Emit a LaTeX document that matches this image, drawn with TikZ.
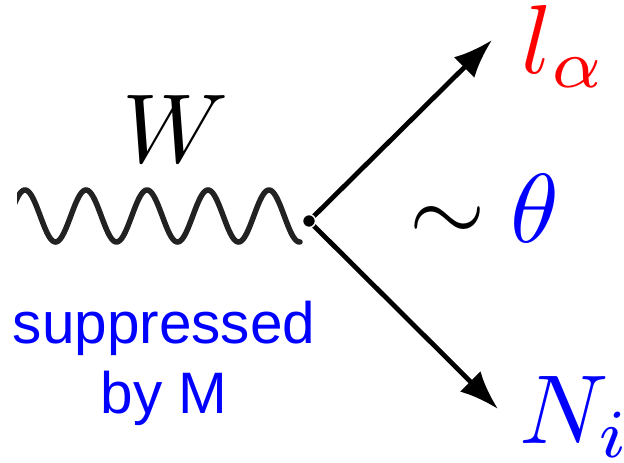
\documentclass[tikz,border=0pt]{standalone}
\usepackage{fontspec}
\newfontfamily\labelsans{Liberation Sans}
\usetikzlibrary{arrows.meta}
\definecolor{wavegray}{HTML}{222222}
\tikzset{
  wave/.style={draw=wavegray, line width=5.5pt, line cap=round},
  arr/.style={draw=black, line width=4.8pt, -{Latex[length=39pt,width=29pt]}},
  bigmath/.style={inner sep=0pt, scale=9.8},
  sanslabel/.style={inner sep=0pt, align=center, text=blue,
    font=\labelsans\fontsize{58.5}{70}\selectfont}
}
\begin{document}
\begin{tikzpicture}[x=1pt,y=-1pt]
\useasboundingbox (0,0) rectangle (624,463);
% wave (W boson)
\begin{scope}
\clip (17,150) rectangle (330,280);
\draw[wave] plot[domain=10:300, samples=250, smooth] (\x, {216-26*cos(5.9016*(\x-25))});
\end{scope}
\coordinate (vtx) at (309,221);
\coordinate (lt) at (492,40);
\coordinate (nt) at (498,409);
\draw[arr] (vtx) -- (lt);
\draw[arr] (vtx) -- (nt);
\fill[black, draw=white, line width=1.5pt] (vtx) circle (6.5);
% labels
\node[bigmath, anchor=base west] (W) at (121,162) {$W$};
\node[bigmath, anchor=base west] (la) at (520,73) {\textcolor{red}{$l_\alpha$}};
\node[bigmath, anchor=base west] (sim) at (408,242) {$\sim$};
\node[bigmath, anchor=base west] (th) at (509,242) {\textcolor{blue}{$\theta$}};
\node[bigmath, anchor=base west] (N) at (518,443) {\textcolor{blue}{$N_i$}};
\node[sanslabel, anchor=base] (sup) at (164,413) {suppressed\\by M};
\end{tikzpicture}
\end{document}
